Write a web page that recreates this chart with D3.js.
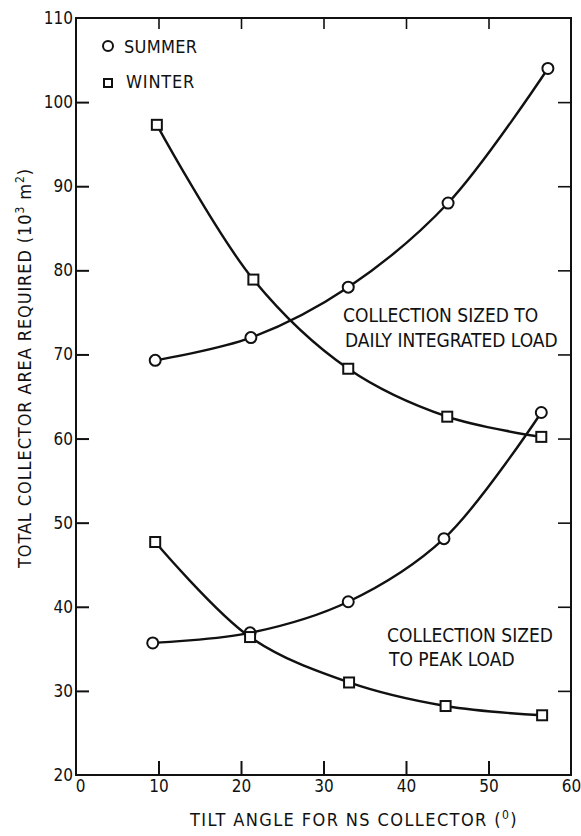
<!DOCTYPE html>
<html>
<head>
<meta charset="utf-8">
<script src="https://cdn.jsdelivr.net/npm/d3@7"></script>
<style>
  body { margin: 0; background: #fff; }
  svg text { font-family: "Liberation Sans Narrow", "DejaVu Sans Condensed", sans-serif; fill: #111; }
</style>
</head>
<body>
<div id="container"></div>
<script>
// tilt angles (deg), one list per curve
const tiltSummerDaily = [9.6, 21.2, 33.0, 45.1, 57.2];
const tiltWinterDaily = [9.8, 21.5, 33.0, 45.0, 56.4];
const tiltSummerPeak  = [9.3, 21.1, 33.0, 44.6, 56.4];
const tiltWinterPeak  = [9.6, 21.1, 33.1, 44.8, 56.5];

// collector area (10^3 m2)
const areaSummerDaily = [69.3, 72.0, 78.0, 88.0, 104.0];
const areaWinterDaily = [97.3, 78.9, 68.3, 62.6, 60.2];
const areaSummerPeak  = [35.7, 36.9, 40.6, 48.1, 63.1];
const areaWinterPeak  = [47.7, 36.4, 31.0, 28.2, 27.1];

const xTicks = [0, 10, 20, 30, 40, 50, 60];
const yTicks = [20, 30, 40, 50, 60, 70, 80, 90, 100, 110];

const width = 581, height = 836;
const plotL = 76, plotR = 571, plotT = 18, plotB = 775;

const x = d3.scaleLinear().domain([0, 60]).range([plotL, plotR]);
const y = d3.scaleLinear().domain([20, 110]).range([plotB, plotT]);

const svg = d3.create("svg")
    .attr("width", width)
    .attr("height", height)
    .attr("viewBox", [0, 0, width, height]);

// frame
svg.append("rect")
    .attr("x", plotL).attr("y", plotT)
    .attr("width", plotR - plotL).attr("height", plotB - plotT)
    .attr("fill", "none").attr("stroke", "#111").attr("stroke-width", 2);

// inward ticks on all four sides
const inner = xTicks.filter(d => d > 0 && d < 60);
const innerY = yTicks.filter(d => d > 20 && d < 110);

svg.append("g").attr("transform", `translate(0,${plotB})`)
    .call(d3.axisBottom(x).tickValues(xTicks).tickSizeInner(-14).tickSizeOuter(0).tickPadding(5))
    .call(g => g.select(".domain").remove())
    .call(g => g.selectAll(".tick line").attr("stroke", "#111").attr("stroke-width", 2)
        .attr("display", d => inner.includes(d) ? null : "none"))
    .call(g => g.selectAll(".tick text").attr("font-size", 17).attr("fill", "#111")
        .attr("dx", d => d === 0 ? 4 : 0));

svg.append("g").attr("transform", `translate(0,${plotT})`)
    .call(d3.axisTop(x).tickValues(inner).tickSize(-11).tickFormat(""))
    .call(g => g.select(".domain").remove())
    .call(g => g.selectAll(".tick line").attr("stroke", "#111").attr("stroke-width", 1.6));

svg.append("g").attr("transform", `translate(${plotL},0)`)
    .call(d3.axisLeft(y).tickValues(yTicks).tickSizeInner(-13).tickSizeOuter(0).tickPadding(3))
    .call(g => g.select(".domain").remove())
    .call(g => g.selectAll(".tick line").attr("stroke", "#111").attr("stroke-width", 2)
        .attr("display", d => innerY.includes(d) ? null : "none"))
    .call(g => g.selectAll(".tick text").attr("font-size", 17).attr("fill", "#111"));

svg.append("g").attr("transform", `translate(${plotR},0)`)
    .call(d3.axisRight(y).tickValues(innerY).tickSize(-13).tickFormat(""))
    .call(g => g.select(".domain").remove())
    .call(g => g.selectAll(".tick line").attr("stroke", "#111").attr("stroke-width", 1.6));

// curves
const series = [
    {tilt: tiltSummerDaily, area: areaSummerDaily, mark: "circle"},
    {tilt: tiltWinterDaily, area: areaWinterDaily, mark: "square"},
    {tilt: tiltSummerPeak, area: areaSummerPeak, mark: "circle"},
    {tilt: tiltWinterPeak, area: areaWinterPeak, mark: "square"}
];

const line = d3.line()
    .x(d => x(d[0]))
    .y(d => y(d[1]))
    .curve(d3.curveCatmullRom.alpha(0.5));

series.forEach(s => {
    const pts = s.tilt.map((t, i) => [t, s.area[i]]);
    svg.append("path")
        .attr("d", line(pts))
        .attr("fill", "none")
        .attr("stroke", "#111")
        .attr("stroke-width", 2.4);
    const g = svg.append("g");
    if (s.mark === "circle") {
        g.selectAll("circle").data(pts).join("circle")
            .attr("cx", d => x(d[0])).attr("cy", d => y(d[1])).attr("r", 5.5)
            .attr("fill", "#fff").attr("stroke", "#111").attr("stroke-width", 2);
    } else {
        g.selectAll("rect").data(pts).join("rect")
            .attr("x", d => x(d[0]) - 5).attr("y", d => y(d[1]) - 5)
            .attr("width", 10).attr("height", 10)
            .attr("fill", "#fff").attr("stroke", "#111").attr("stroke-width", 2);
    }
});

// legend
svg.append("circle").attr("cx", 108).attr("cy", 46).attr("r", 5)
    .attr("fill", "#fff").attr("stroke", "#111").attr("stroke-width", 2);
svg.append("text").attr("x", 124).attr("y", 53).attr("font-size", 18)
    .attr("letter-spacing", 0.3).text("SUMMER");
svg.append("rect").attr("x", 104).attr("y", 79).attr("width", 8).attr("height", 8)
    .attr("fill", "#fff").attr("stroke", "#111").attr("stroke-width", 2);
svg.append("text").attr("x", 126).attr("y", 88).attr("font-size", 18)
    .attr("letter-spacing", 0.8).text("WINTER");

// annotations
const note = (tx, ty, str) => svg.append("text").attr("x", tx).attr("y", ty)
    .attr("font-size", 19).text(str);
note(343, 322, "COLLECTION SIZED TO");
note(345, 347, "DAILY INTEGRATED LOAD");
note(387, 642, "COLLECTION SIZED");
note(389, 666, "TO PEAK LOAD");

// axis titles
svg.append("text")
    .attr("x", 354).attr("y", 826)
    .attr("text-anchor", "middle").attr("font-size", 18).attr("letter-spacing", 1.4)
    .call(t => {
        t.append("tspan").text("TILT ANGLE FOR NS  COLLECTOR  (");
        t.append("tspan").attr("dy", -7).attr("font-size", 12).text("0");
        t.append("tspan").attr("dy", 7).text(")");
    });

svg.append("text")
    .attr("transform", "translate(31,368) rotate(-90)")
    .attr("text-anchor", "middle").attr("font-size", 18).attr("letter-spacing", 0.9)
    .call(t => {
        t.append("tspan").text("TOTAL COLLECTOR AREA REQUIRED  (10");
        t.append("tspan").attr("dy", -7).attr("font-size", 12).text("3");
        t.append("tspan").attr("dy", 7).text(" m");
        t.append("tspan").attr("dy", -7).attr("font-size", 12).text("2");
        t.append("tspan").attr("dy", 7).text(")");
    });

d3.select("#container").append(() => svg.node());
</script>
</body>
</html>
